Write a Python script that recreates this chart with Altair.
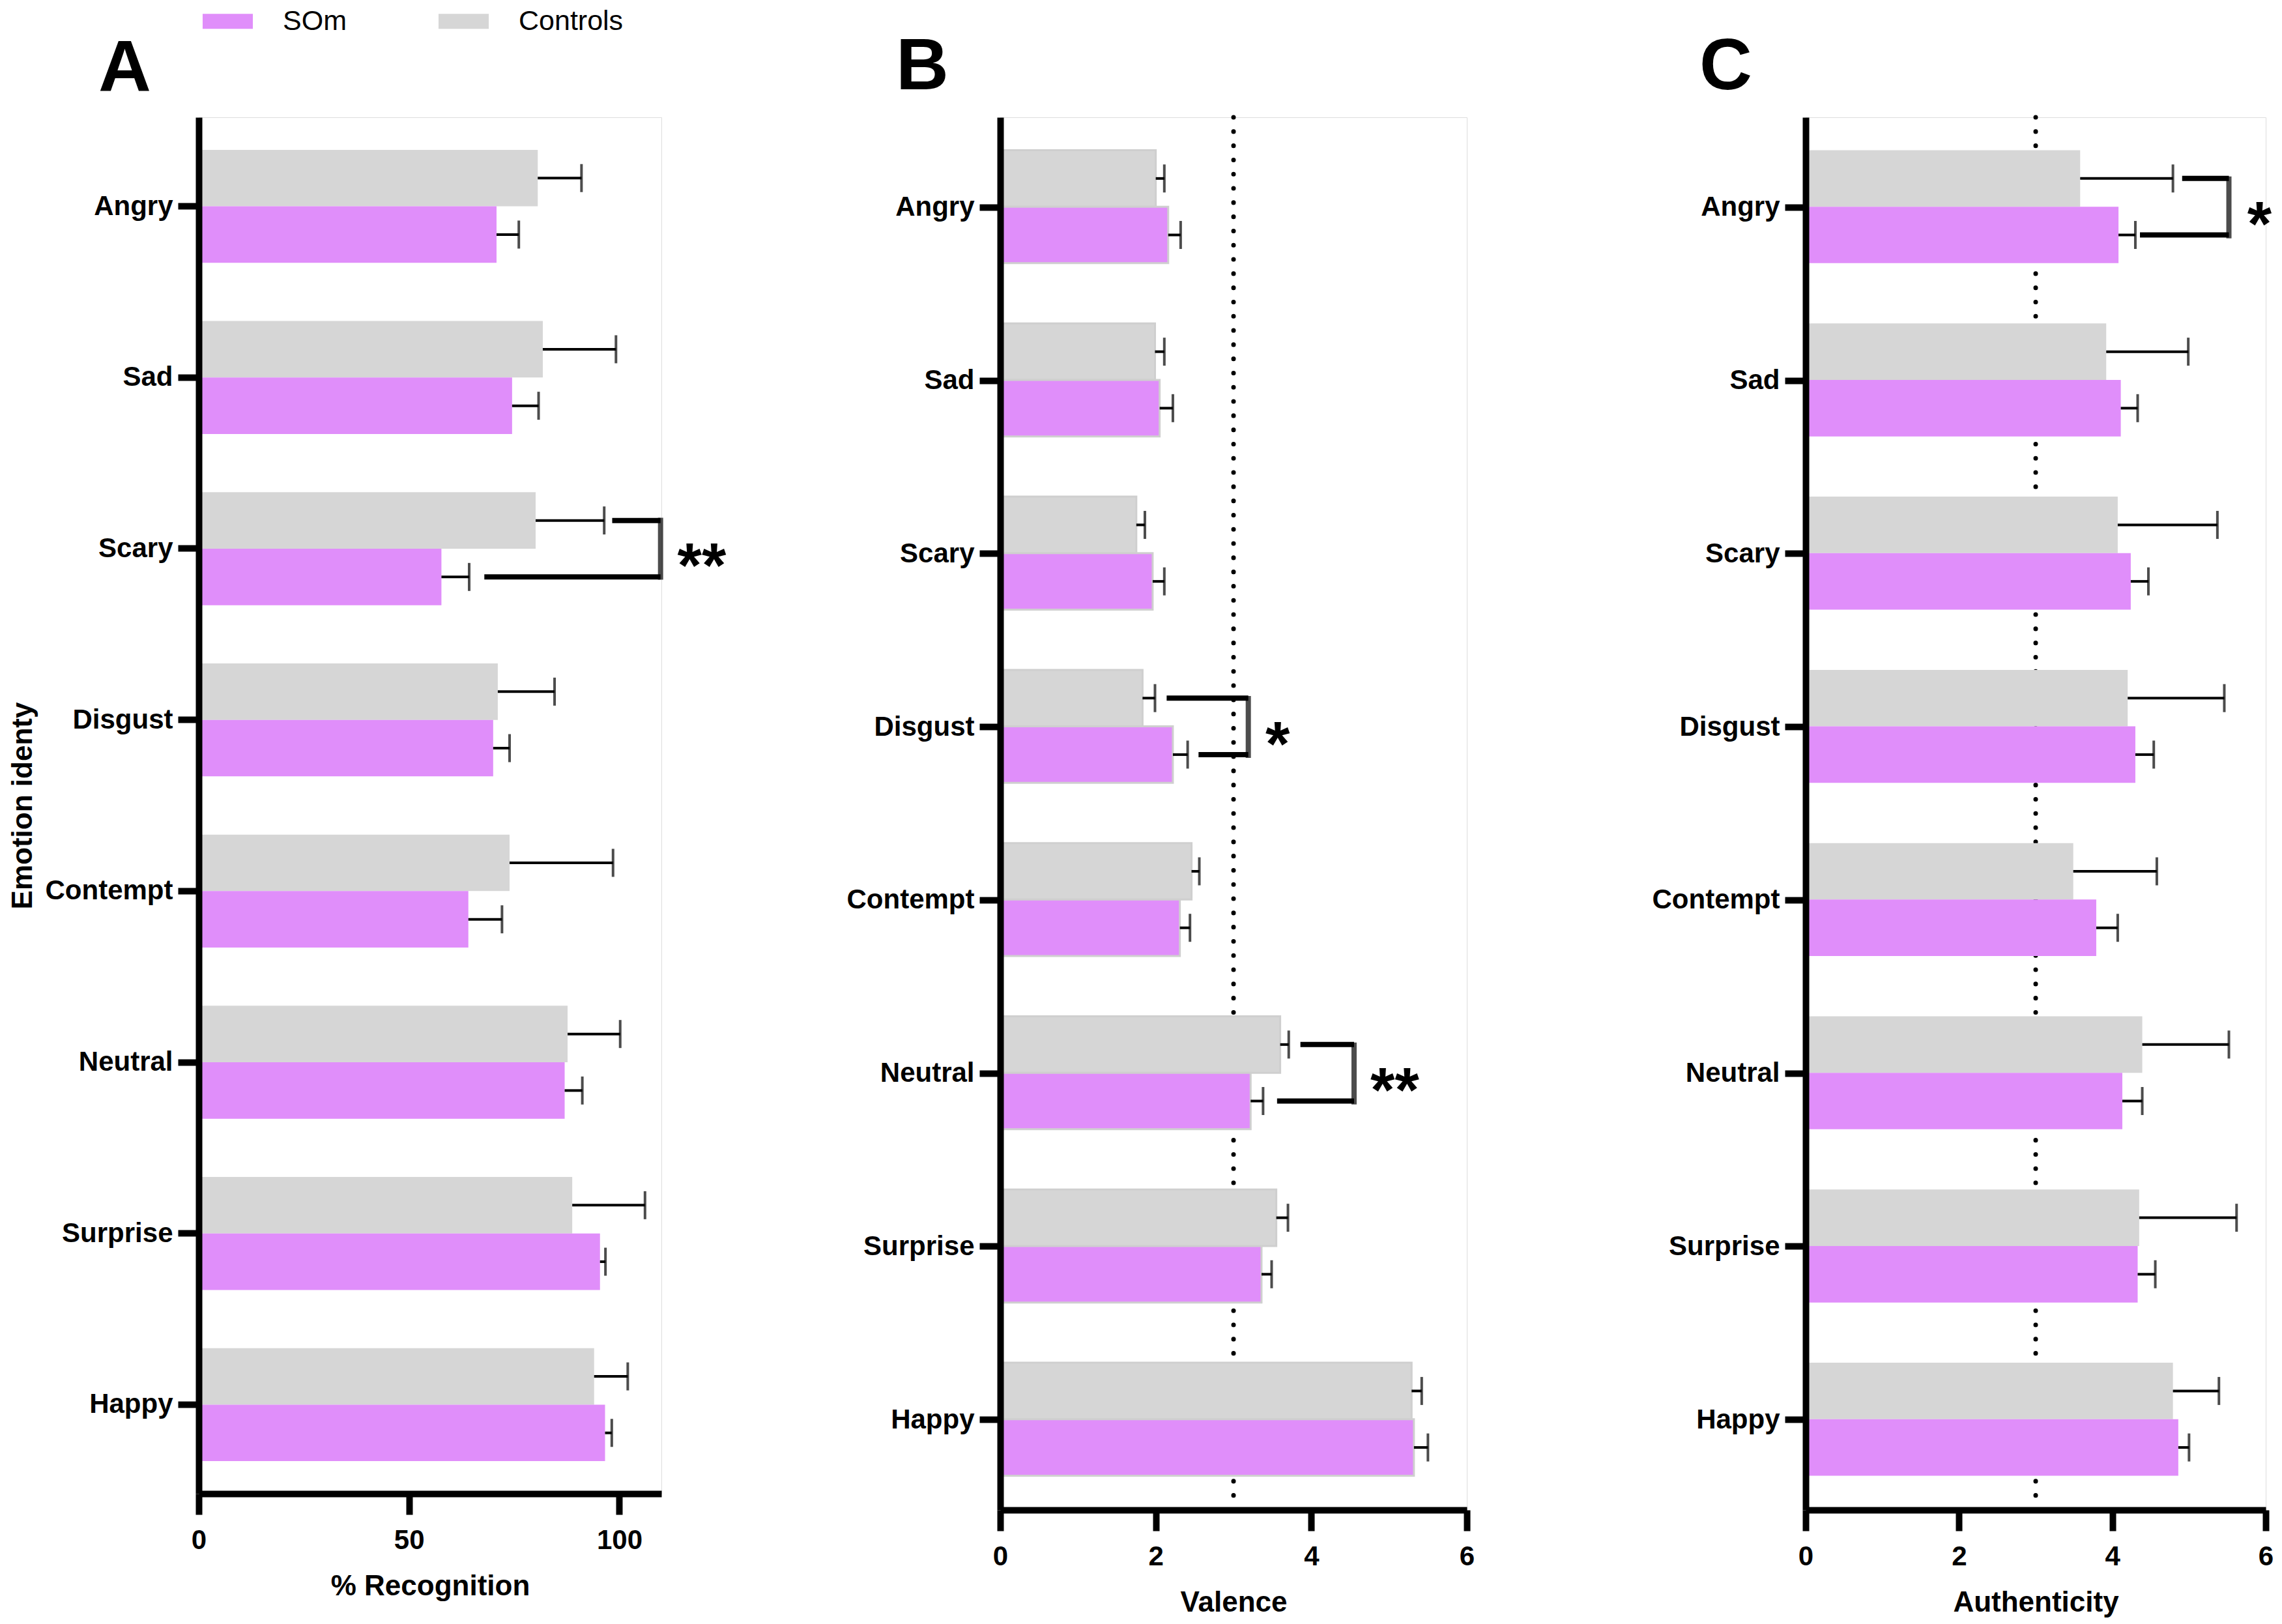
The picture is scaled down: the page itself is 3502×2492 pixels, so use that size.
import altair as alt
import pandas as pd

F = "Liberation Sans, Arial, Helvetica, sans-serif"
PURPLE = "#E08EFA"
GRAY = "#D6D6D6"

categories = ["Angry", "Sad", "Scary", "Disgust", "Contempt", "Neutral", "Surprise", "Happy"]
group_names = ["SOm", "Controls"]

# Panel A: % Recognition
rec_controls = [80.6, 81.8, 80.1, 71.1, 73.9, 87.7, 88.8, 94.0]
rec_controls_sem = [10.4, 17.4, 16.3, 13.5, 24.6, 12.5, 17.3, 8.0]
rec_som = [70.8, 74.5, 57.7, 70.0, 64.1, 87.0, 95.4, 96.6]
rec_som_sem = [5.3, 6.3, 6.6, 3.9, 8.0, 4.2, 1.3, 1.6]

# Panel B: Valence
val_controls = [2.00, 1.99, 1.75, 1.83, 2.46, 3.60, 3.55, 5.29]
val_controls_sem = [0.11, 0.12, 0.11, 0.16, 0.10, 0.11, 0.15, 0.13]
val_som = [2.16, 2.05, 1.96, 2.22, 2.31, 3.22, 3.36, 5.32]
val_som_sem = [0.16, 0.17, 0.15, 0.19, 0.13, 0.16, 0.13, 0.18]

# Panel C: Authenticity
aut_controls = [3.58, 3.92, 4.07, 4.20, 3.49, 4.39, 4.35, 4.79]
aut_controls_sem = [1.21, 1.07, 1.30, 1.26, 1.09, 1.13, 1.27, 0.60]
aut_som = [4.08, 4.11, 4.24, 4.30, 3.79, 4.13, 4.33, 4.86]
aut_som_sem = [0.22, 0.22, 0.23, 0.24, 0.28, 0.26, 0.23, 0.14]

# significance brackets
sig_a_cat = ["Scary"]; sig_a_top = [98.3]; sig_a_bottom = [67.9]; sig_a_right = [109.8]; sig_a_label = ["**"]; sig_a_lx = [113.8]
sig_b_cat = ["Disgust", "Neutral"]; sig_b_top = [2.14, 3.86]; sig_b_bottom = [2.55, 3.56]; sig_b_right = [3.19, 4.55]; sig_b_label = ["*", "**"]; sig_b_lx = [3.41, 4.76]
sig_c_cat = ["Angry"]; sig_c_top = [4.91]; sig_c_bottom = [4.36]; sig_c_right = [5.52]; sig_c_label = ["*"]; sig_c_lx = [5.76]

color = alt.Color(
    "group:N",
    scale=alt.Scale(domain=group_names, range=[PURPLE, GRAY]),
    legend=alt.Legend(
        title=None, orient="none", legendX=23, legendY=-169, direction="horizontal",
        symbolType="M-3.35,-1H3.35V1H-3.35Z", symbolSize=529, symbolStrokeWidth=0,
        labelFontSize=43, labelFont=F, labelColor="black", labelOffset=63,
        columnPadding=140, padding=0, labelLimit=400,
    ),
)


def panel(ctrl, ctrl_sem, som, som_sem, sig, xtitle, xdomain, xticks, letter, dx,
          width, height, ytitle, ref_line, bar_stroke):
    rows = []
    for i, c in enumerate(categories):
        rows.append({"category": c, "group": "Controls", "mean": ctrl[i], "sem": ctrl_sem[i]})
        rows.append({"category": c, "group": "SOm", "mean": som[i], "sem": som_sem[i]})
    df = pd.DataFrame(rows)

    xaxis = alt.Axis(values=xticks, title=xtitle, grid=False, domainWidth=10, domainColor="black",
                     tickWidth=10, tickSize=32, tickColor="black", labelFontSize=42, labelFont=F,
                     labelFontWeight="bold", labelColor="black", labelPadding=19, labelFlush=False,
                     titleFontSize=44, titleFont=F, titleFontWeight="bold", titleColor="black",
                     titlePadding=28, zindex=1)
    yaxis_kw = dict(grid=False, domainWidth=10, domainColor="black", tickWidth=10, tickSize=32,
                    tickColor="black", labelFontSize=42, labelFont=F, labelFontWeight="bold",
                    labelColor="black", labelPadding=8, labelLimit=400, maxExtent=400,
                    titleFontSize=44, titleFont=F, titleFontWeight="bold", titleColor="black",
                    titlePadding=12, zindex=1)
    if ytitle:
        yaxis = alt.Axis(title=ytitle, **yaxis_kw)
    else:
        yaxis = alt.Axis(title=None, **yaxis_kw)

    xscale = alt.Scale(domain=xdomain, nice=False, zero=True)

    def X(field):
        return alt.X(field, scale=xscale, axis=xaxis)

    y = alt.Y("category:N", sort=categories,
              scale=alt.Scale(domain=categories, paddingInner=0.34, paddingOuter=0.19), axis=yaxis)
    yoff = alt.YOffset("group:N", sort=["Controls", "SOm"],
                       scale=alt.Scale(domain=["Controls", "SOm"], paddingInner=0, paddingOuter=0))

    layers = []
    if ref_line is not None:
        layers.append(
            alt.Chart(pd.DataFrame({"ref": [ref_line]}))
            .mark_rule(color="black", strokeWidth=7, strokeDash=[0.1, 21.7], strokeCap="round")
            .encode(x=X("ref:Q"))
        )
    base = alt.Chart(df).transform_calculate(hi="datum.mean + datum.sem")
    bar_kw = {}
    if bar_stroke:
        bar_kw = dict(stroke="#CFCFCF", strokeWidth=3)
    layers.append(base.mark_bar(**bar_kw).encode(x=X("mean:Q"), y=y, yOffset=yoff, color=color))
    layers.append(base.mark_rule(color="black", strokeWidth=4).encode(
        x=X("mean:Q"), x2="hi:Q", y=y, yOffset=yoff))
    layers.append(base.mark_tick(color="black", orient="vertical", size=43, thickness=4).encode(
        x=X("hi:Q"), y=y, yOffset=yoff))

    cat, top, bottom, right, label, lx = sig
    br_rows = []
    for i in range(len(cat)):
        br_rows.append({"category": cat[i], "group": "Controls", "xs": top[i], "xe": right[i]})
        br_rows.append({"category": cat[i], "group": "SOm", "xs": bottom[i], "xe": right[i]})
    br = pd.DataFrame(br_rows)
    lab = pd.DataFrame({"category": cat, "right": right, "label": label, "lx": lx})
    layers.append(alt.Chart(br).mark_rule(color="black", strokeWidth=8).encode(
        x=X("xs:Q"), x2="xe:Q", y=y, yOffset=yoff))
    layers.append(alt.Chart(lab).mark_tick(color="black", orient="vertical", size=95, thickness=8).encode(
        x=X("right:Q"), y=y))
    layers.append(alt.Chart(lab).mark_text(font=F, fontSize=96, fontWeight="bold", align="left",
                                           baseline="alphabetic", dy=58, color="black").encode(
        x=X("lx:Q"), y=y, text="label:N"))

    return alt.layer(*layers).properties(
        width=width, height=height,
        title=alt.TitleParams(letter, anchor="start", frame="group", dx=dx, fontSize=112, font=F,
                              fontWeight="bold", color="black", offset=-72, baseline="alphabetic"),
    )


pa = panel(rec_controls, rec_controls_sem, rec_som, rec_som_sem,
           (sig_a_cat, sig_a_top, sig_a_bottom, sig_a_right, sig_a_label, sig_a_lx),
           "% Recognition", [0, 110], [0, 50, 100], "A", -154, 710, 2112, "Emotion identy", None, False)
pb = panel(val_controls, val_controls_sem, val_som, val_som_sem,
           (sig_b_cat, sig_b_top, sig_b_bottom, sig_b_right, sig_b_label, sig_b_lx),
           "Valence", [0, 6], [0, 2, 4, 6], "B", -160, 716, 2137, None, 3, True)
pc = panel(aut_controls, aut_controls_sem, aut_som, aut_som_sem,
           (sig_c_cat, sig_c_top, sig_c_bottom, sig_c_right, sig_c_label, sig_c_lx),
           "Authenticity", [0, 6], [0, 2, 4, 6], "C", -163, 706, 2137, None, 3, False)

chart = alt.hconcat(
    pa, pb, pc, spacing=520, bounds="flush",
    padding={"left": 4, "top": 3, "right": 0, "bottom": 0},
).configure_view(stroke=None).configure(background="white")

chart.save("out.html", embed_options={"renderer": "svg", "actions": False})
